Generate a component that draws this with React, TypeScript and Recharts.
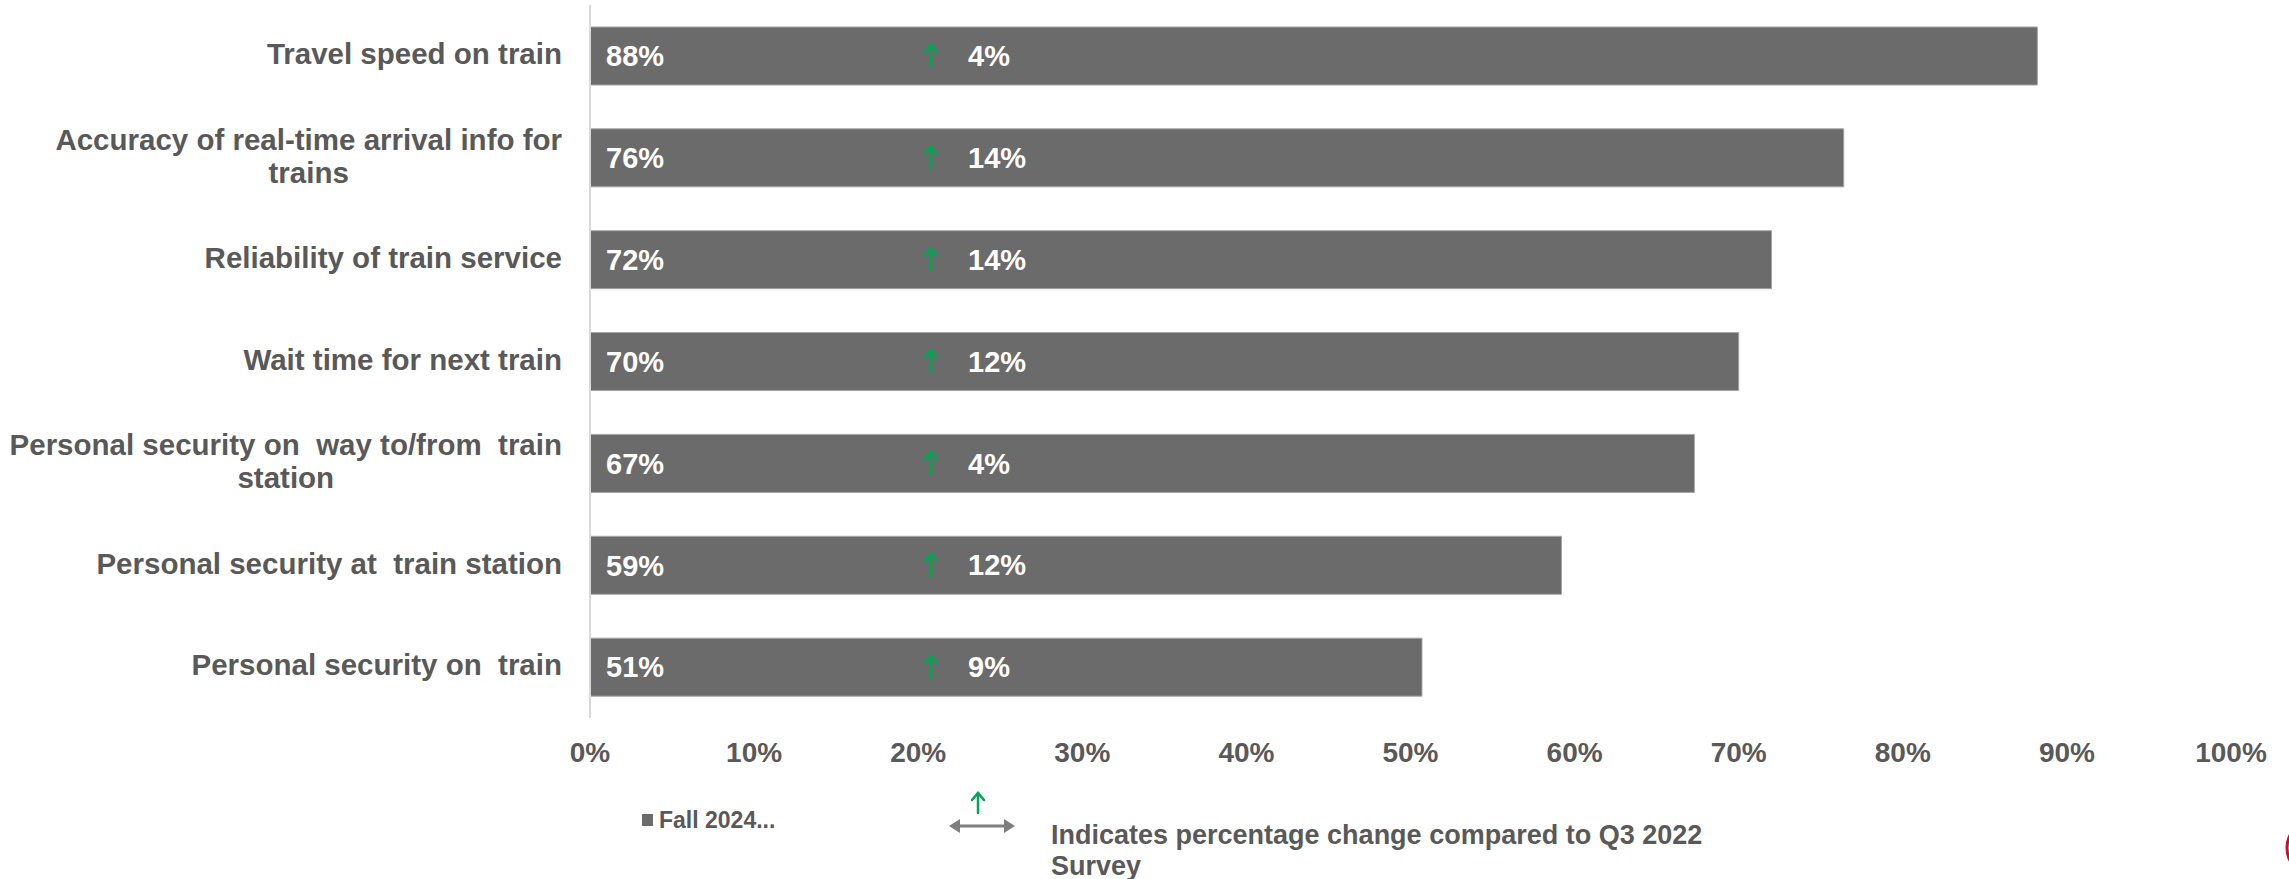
import React from 'react'
import { BarChart, Bar, XAxis, YAxis, LabelList, Legend } from 'recharts'

const categories = [
  'Travel speed on train',
  'Accuracy of real-time arrival info for trains',
  'Reliability of train service',
  'Wait time for next train',
  'Personal security on  way to/from  train station',
  'Personal security at  train station',
  'Personal security on  train',
]
const fall2024 = [88.2, 76.4, 72, 70, 67.3, 59.2, 50.7]
const changeVsQ3 = [4, 14, 14, 12, 4, 12, 9]
const xTicks = [0, 10, 20, 30, 40, 50, 60, 70, 80, 90, 100]
const seriesName = 'Fall 2024...'
const noteLines = ['Indicates percentage change compared to Q3 2022', 'Survey']

const data = categories.map((name, i) => ({ name, value: fall2024[i], change: changeVsQ3[i] }))

const FONT = '"Liberation Sans", Arial, sans-serif'
const GRAY_TEXT = '#595959'
const BAR_FILL = '#6b6b6b'
const GREEN = '#00a651'
const CAT_SIZE = 29.5

let measureCtx: CanvasRenderingContext2D | null = null
function measure(text: string, font: string) {
  if (!measureCtx) measureCtx = document.createElement('canvas').getContext('2d')
  if (!measureCtx) return text.length * 15
  measureCtx.font = font
  return measureCtx.measureText(text).width
}

function wrapLabel(text: string, maxW: number, font: string) {
  const words = text.split(' ')
  const lines: string[] = []
  let line = ''
  for (const w of words) {
    const cand = line === '' ? w : line + ' ' + w
    if (line !== '' && measure(cand.trimEnd(), font) > maxW) {
      lines.push(line.trimEnd())
      line = w
    } else {
      line = cand
    }
  }
  if (line) lines.push(line.trimEnd())
  return lines
}

function CategoryTick(props: any) {
  const { x, y, payload } = props
  const font = `bold ${CAT_SIZE}px ${FONT}`
  const lines = wrapLabel(String(payload.value), 575, font)
  const widest = Math.max(...lines.map((l) => measure(l, font)))
  const cx = x - widest / 2
  const lh = 33
  const start = y - ((lines.length - 1) * lh) / 2 - 2
  return (
    <text textAnchor="middle" fontSize={CAT_SIZE} fontWeight="bold" fill={GRAY_TEXT} fontFamily={FONT} style={{ whiteSpace: 'pre' }}>
      {lines.map((l, i) => (
        <tspan key={i} x={cx} y={start + i * lh} dy="0.35em">
          {l}
        </tspan>
      ))}
    </text>
  )
}

function UpArrow({ x, y, h }: { x: number; y: number; h: number }) {
  return (
    <g stroke={GREEN} strokeWidth={2.5} fill="none" strokeLinecap="round">
      <line x1={x} y1={y + h / 2} x2={x} y2={y - h / 2} />
      <polyline points={`${x - 6},${y - h / 2 + 7} ${x},${y - h / 2} ${x + 6},${y - h / 2 + 7}`} />
    </g>
  )
}

function ChangeLabel(props: any) {
  const { x, y, height, value } = props
  const cy = y + height / 2
  return (
    <g>
      <UpArrow x={x + 341} y={cy} h={22} />
      <text x={x + 378} y={cy} dy="0.35em" fill="#ffffff" fontSize={29} fontWeight="bold" fontFamily={FONT}>
        {`${value}%`}
      </text>
    </g>
  )
}

function LegendContent(props: any) {
  const item = props.payload && props.payload[0]
  const color = item ? item.color : BAR_FILL
  const label = item ? item.value : seriesName
  return (
    <svg width={2289} height={879} style={{ position: 'absolute', left: 0, top: 0, overflow: 'visible', pointerEvents: 'none' }}>
      <rect x={642} y={814} width={11} height={12} fill={color} />
      <text x={659} y={820} dy="0.35em" fontSize={23} fontWeight="bold" fill={GRAY_TEXT} fontFamily={FONT}>
        {label}
      </text>
      <UpArrow x={978} y={803} h={20} />
      <g fill="#7f7f7f" stroke="#7f7f7f">
        <line x1={958} y1={826} x2={1006} y2={826} strokeWidth={3} />
        <polygon points="949,826 960,819 960,833" stroke="none" />
        <polygon points="1015,826 1004,819 1004,833" stroke="none" />
      </g>
      <text fontSize={27} fontWeight="bold" fill={GRAY_TEXT} fontFamily={FONT}>
        {noteLines.map((l, i) => (
          <tspan key={i} x={1051} y={835 + i * 31} dy="0.35em">
            {l}
          </tspan>
        ))}
      </text>
      <circle cx={2314} cy={848} r={27} fill="none" stroke="#c8102e" strokeWidth={3} />
    </svg>
  )
}

export default function App() {
  return (
    <div style={{ position: 'absolute', left: 0, top: 0, width: 2289, height: 879, background: '#ffffff' }}>
      <BarChart
        width={2289}
        height={879}
        data={data}
        layout="vertical"
        margin={{ top: 5, right: 58, left: 0, bottom: 101 }}
      >
        <XAxis
          type="number"
          domain={[0, 100]}
          ticks={xTicks}
          tickFormatter={(v) => `${v}%`}
          axisLine={false}
          tickLine={false}
          tickSize={0}
          tickMargin={24}
          height={60}
          interval={0}
          tick={{ fontSize: 28, fontWeight: 'bold', fill: GRAY_TEXT, fontFamily: FONT }}
        />
        <YAxis
          type="category"
          dataKey="name"
          width={590}
          axisLine={{ stroke: '#d9d9d9', strokeWidth: 2 }}
          tickLine={false}
          tickSize={0}
          tickMargin={28}
          interval={0}
          tick={<CategoryTick />}
        />
        <Legend content={<LegendContent />} wrapperStyle={{ left: 0, top: 0, width: 2289, height: 0 }} />
        <Bar dataKey="value" name={seriesName} fill={BAR_FILL} stroke="#a6a6a6" strokeWidth={1} barSize={58} isAnimationActive={false}>
          <LabelList
            dataKey="value"
            position="insideLeft"
            offset={16}
            formatter={(v: any) => `${Math.round(Number(v))}%`}
            fill="#ffffff"
            fontSize={29}
            fontWeight="bold"
            fontFamily={FONT}
          />
          <LabelList dataKey="change" content={<ChangeLabel />} />
        </Bar>
      </BarChart>
    </div>
  )
}
